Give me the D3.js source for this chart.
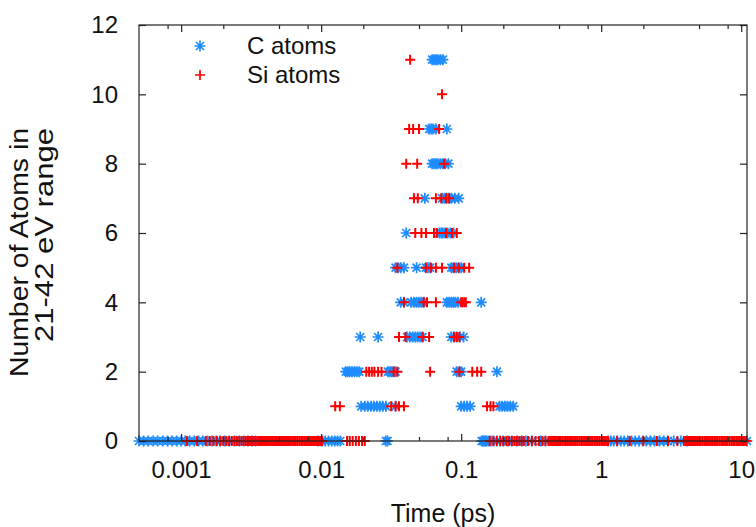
<!DOCTYPE html>
<html>
<head>
<meta charset="utf-8">
<script src="https://cdn.jsdelivr.net/npm/d3@7"></script>
<style>
  body { margin: 0; background: #fff; }
  svg { display: block; }
  text { font-family: "Liberation Sans", Arial, sans-serif; fill: #111; }
</style>
</head>
<body>
<svg id="chart"></svg>
<script>
// axis ticks
const xMajor = [0.001, 0.01, 0.1, 1, 10];
const xMinor = [0.0008, 0.002, 0.005, 0.008, 0.02, 0.05, 0.08, 0.2, 0.5, 0.8, 2, 5, 8];
const yTicks = [0, 2, 4, 6, 8, 10, 12];
const seriesNames = ["C atoms", "Si atoms"];

// times (ps) of C atoms, indexed by number of atoms in the 21-42 eV range
const cTimesByCount = [
  [0.0005, 0.00054, 0.00058, 0.00063, 0.00068, 0.00074, 0.0008, 0.00086, 0.00093, 0.001, 0.00107,
   0.00115, 0.00124, 0.00133, 0.00143, 0.00154, 0.00166, 0.00178, 0.0019, 0.00205, 0.0022, 0.0024,
   0.0026, 0.0028, 0.003, 0.0032, 0.0034, 0.0095, 0.0101, 0.0107, 0.0113, 0.0119, 0.0125, 0.0131,
   0.0137, 0.029, 0.0298, 0.14, 0.143, 0.146, 0.149, 0.152, 0.157, 0.163, 0.17, 0.18, 0.19, 0.2, 0.215,
   0.23, 0.25, 0.27, 0.29, 0.32, 0.37, 0.4, 1.12, 1.17, 1.23, 1.3, 1.38, 1.46, 1.55, 1.65, 1.75,
   1.86, 1.98, 2.1, 2.25, 2.4, 2.6, 2.8, 3.0, 3.3, 3.7, 4.1, 11],
  [0.0193, 0.0205, 0.0215, 0.0227, 0.0238, 0.025, 0.0262, 0.0275, 0.029, 0.034, 0.1, 0.105, 0.11,
   0.116, 0.188, 0.196, 0.205, 0.214, 0.224, 0.235],
  [0.015, 0.0155, 0.016, 0.0166, 0.0173, 0.018, 0.0187, 0.03, 0.031, 0.032, 0.033, 0.034, 0.093,
   0.097, 0.1, 0.18],
  [0.019, 0.0255, 0.041, 0.043, 0.045, 0.047, 0.049, 0.051, 0.053, 0.085, 0.089, 0.093, 0.098, 0.104],
  [0.037, 0.039, 0.044, 0.046, 0.048, 0.05, 0.052, 0.054, 0.079, 0.082, 0.085, 0.088, 0.091, 0.095, 0.139],
  [0.034, 0.0355, 0.037, 0.039, 0.048, 0.056, 0.058, 0.06, 0.085, 0.088, 0.092, 0.096, 0.1],
  [0.0405, 0.07, 0.072, 0.074, 0.077, 0.08, 0.084, 0.088],
  [0.055, 0.073, 0.076, 0.079, 0.082, 0.085, 0.09, 0.096],
  [0.062, 0.064, 0.066, 0.068, 0.071, 0.074, 0.077, 0.081],
  [0.059, 0.061, 0.063, 0.066, 0.079],
  [],
  [0.062, 0.064, 0.066, 0.068, 0.071, 0.074]
];

// times (ps) of Si atoms, same indexing
const siTimesByCount = [
  [0.0011, 0.0013, 0.0015, 0.0016, 0.0017, 0.0018, 0.0019, 0.002, 0.0021, 0.0022, 0.0023, 0.0024,
   0.0025, 0.0026, 0.0027, 0.0028, 0.0029, 0.003, 0.0031, 0.0032, 0.0033, 0.0034, 0.0035, 0.0036,
   0.00368, 0.00376, 0.00384, 0.00392, 0.004, 0.0041, 0.0042, 0.0043, 0.0044, 0.0045, 0.0046, 0.0047,
   0.0048, 0.0049, 0.005, 0.0051, 0.0052, 0.0053, 0.0054, 0.0055, 0.0056, 0.0057, 0.0058, 0.0059,
   0.006, 0.0062, 0.0064, 0.0066, 0.0068, 0.007, 0.0072, 0.0074, 0.0076, 0.0078, 0.008, 0.0082,
   0.0084, 0.0086, 0.0088, 0.009, 0.0092, 0.0094, 0.0096, 0.0098, 0.01, 0.0102,
   0.0153, 0.016, 0.0168, 0.0177, 0.0186, 0.0196, 0.0205,
   0.16, 0.17, 0.18, 0.19, 0.2, 0.21, 0.22, 0.23, 0.24, 0.25, 0.26, 0.27, 0.28, 0.3, 0.32, 0.34,
   0.36, 0.38, 0.4, 0.42, 0.43, 0.44, 0.45, 0.46, 0.47, 0.48, 0.49, 0.5, 0.515, 0.53, 0.545, 0.56,
   0.575, 0.59, 0.605, 0.62, 0.64, 0.66, 0.68, 0.7, 0.72, 0.74, 0.76, 0.78, 0.8, 0.82, 0.845, 0.87,
   0.895, 0.92, 0.945, 0.97, 1.0, 1.03, 1.06, 1.09, 1.12, 1.3, 1.6, 2.0, 2.5, 3.0, 3.5,
   3.9, 4.0, 4.1, 4.2, 4.3, 4.4, 4.5, 4.6, 4.7, 4.8, 4.9, 5.0, 5.15, 5.3, 5.45, 5.6, 5.75, 5.9,
   6.05, 6.2, 6.4, 6.6, 6.8, 7.0, 7.2, 7.4, 7.6, 7.8, 8.0, 8.25, 8.5, 8.75, 9.0, 9.25, 9.5, 9.75,
   10.0, 10.3, 10.6, 10.9],
  [0.0126, 0.0136, 0.0316, 0.034, 0.036, 0.039, 0.153, 0.162, 0.17],
  [0.021, 0.022, 0.023, 0.024, 0.0255, 0.027, 0.033, 0.035, 0.06, 0.097, 0.12, 0.13, 0.139],
  [0.036, 0.04, 0.053, 0.059, 0.089, 0.093, 0.097],
  [0.039, 0.054, 0.057, 0.066, 0.1, 0.102, 0.105, 0.108],
  [0.035, 0.056, 0.061, 0.066, 0.073, 0.089, 0.096, 0.105, 0.114],
  [0.047, 0.052, 0.056, 0.064, 0.067, 0.078, 0.086, 0.093],
  [0.046, 0.049, 0.066, 0.072, 0.078, 0.082],
  [0.0405, 0.0485, 0.0755],
  [0.0425, 0.0454, 0.05, 0.0696],
  [0.073],
  [0.0432]
];

const W = 756, H = 527;
const margin = { top: 25, right: 9, bottom: 86, left: 139 },
      width = W - margin.left - margin.right,
      height = H - margin.top - margin.bottom;

const svg = d3.select("#chart").attr("width", W).attr("height", H);
const g = svg.append("g").attr("transform", `translate(${margin.left},${margin.top})`);

const x = d3.scaleLog().domain([0.0005, 11]).range([0, width]);
const y = d3.scaleLinear().domain([0, 12]).range([height, 0]);

const plusPath = "M-5,0H5M0,-5V5";
const starPath = "M-5.5,0H5.5M0,-5.5V5.5M-4,-4L4,4M-4,4L4,-4";
const blue = "#1e8cff", red = "#ff0000";

// flatten rows into points
function toPoints(rows) {
  const pts = [];
  rows.forEach((times, count) => times.forEach(t => pts.push({ t: t, n: count })));
  return pts;
}

g.append("g").selectAll("path")
  .data(toPoints(cTimesByCount))
  .enter().append("path")
  .attr("d", starPath)
  .attr("transform", d => `translate(${x(d.t)},${y(d.n)})`)
  .attr("fill", "none").attr("stroke", blue).attr("stroke-width", 1.7);

g.append("g").selectAll("path")
  .data(toPoints(siTimesByCount))
  .enter().append("path")
  .attr("d", plusPath)
  .attr("transform", d => `translate(${x(d.t)},${y(d.n)})`)
  .attr("fill", "none").attr("stroke", red).attr("stroke-width", 2);

// axes (ticks point inward)
const fontSize = "24px";
function style(sel) {
  sel.select(".domain").remove();
  sel.selectAll("line").attr("stroke", "#222").attr("stroke-width", 1.2);
  sel.selectAll("text").attr("font-size", fontSize).attr("fill", "#111")
     .attr("font-family", "'Liberation Sans', Arial, sans-serif");
}

g.append("g").attr("transform", `translate(0,${height})`)
  .call(d3.axisBottom(x).tickValues(xMajor).tickSizeInner(-7).tickSizeOuter(0)
        .tickPadding(20).tickFormat(d => String(d)))
  .call(style);
g.append("g").attr("transform", `translate(0,${height})`)
  .call(d3.axisBottom(x).tickValues(xMinor).tickSizeInner(-4).tickSizeOuter(0).tickFormat(""))
  .call(style);
g.append("g")
  .call(d3.axisTop(x).tickValues(xMajor).tickSizeInner(-7).tickSizeOuter(0).tickFormat(""))
  .call(style);
g.append("g")
  .call(d3.axisTop(x).tickValues(xMinor).tickSizeInner(-4).tickSizeOuter(0).tickFormat(""))
  .call(style);
g.append("g")
  .call(d3.axisLeft(y).tickValues(yTicks).tickSizeInner(-7).tickSizeOuter(0).tickPadding(21))
  .call(style);
g.append("g").attr("transform", `translate(${width},0)`)
  .call(d3.axisRight(y).tickValues(yTicks).tickSizeInner(-7).tickSizeOuter(0).tickFormat(""))
  .call(style);

// frame
g.append("rect")
  .attr("width", width).attr("height", height)
  .attr("fill", "none").attr("stroke", "#222").attr("stroke-width", 1.2);

// axis titles
svg.append("text")
  .attr("x", margin.left + width / 2).attr("y", 522)
  .attr("text-anchor", "middle").attr("font-size", "25px")
  .text("Time (ps)");

const yLabel = svg.append("g").attr("transform", "translate(0,128) rotate(-90)");
yLabel.append("text").attr("x", 0).attr("y", 28).attr("text-anchor", "end")
  .attr("font-size", "25px").attr("textLength", 249).attr("lengthAdjust", "spacingAndGlyphs")
  .text("Number of Atoms in");
yLabel.append("text").attr("x", 0).attr("y", 53).attr("text-anchor", "end")
  .attr("font-size", "25px").attr("textLength", 214).attr("lengthAdjust", "spacingAndGlyphs")
  .text("21-42 eV range");

// legend
const legend = svg.append("g");
const legendShapes = [starPath, plusPath], legendColors = [blue, red];
seriesNames.forEach((name, i) => {
  const ly = 46 + i * 29;
  legend.append("path").attr("d", legendShapes[i])
    .attr("transform", `translate(200,${ly})`)
    .attr("fill", "none").attr("stroke", legendColors[i]).attr("stroke-width", 1.7);
  legend.append("text").attr("x", 247).attr("y", ly + 7.5)
    .attr("font-size", "24px").text(name);
});
</script>
</body>
</html>
